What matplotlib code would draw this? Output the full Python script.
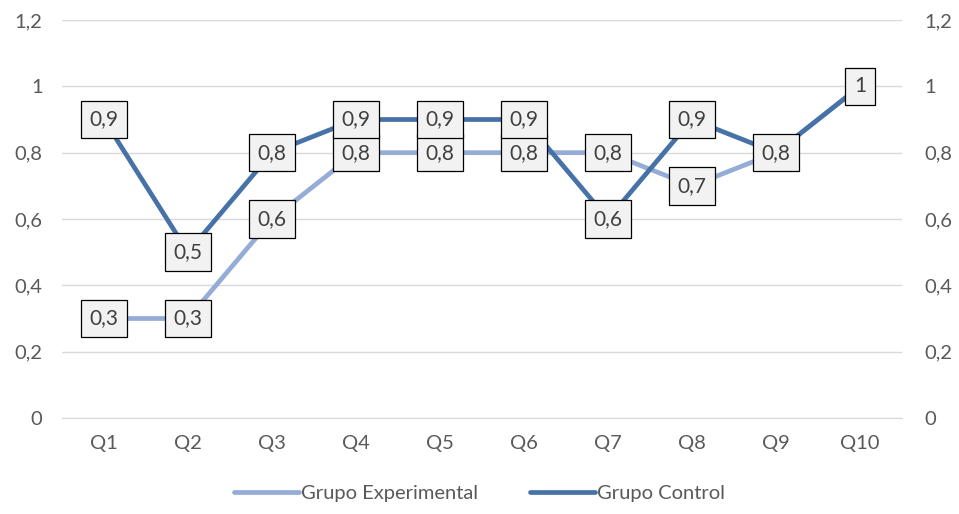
import numpy as np
import matplotlib.pyplot as plt

categories = ['Q1', 'Q2', 'Q3', 'Q4', 'Q5', 'Q6', 'Q7', 'Q8', 'Q9', 'Q10']
experimental = [0.3, 0.3, 0.6, 0.8, 0.8, 0.8, 0.8, 0.7, 0.8, 1.0]
control = [0.9, 0.5, 0.8, 0.9, 0.9, 0.9, 0.6, 0.9, 0.8, 1.0]
yticks = [0, 0.2, 0.4, 0.6, 0.8, 1.0, 1.2]

plt.rcParams['font.family'] = ['Lato', 'DejaVu Sans']
text_color = '#595959'
c_exp = '#94ACD6'
c_ctl = '#4672A8'

def fmt(v):
    s = f"{v:g}"
    return s.replace('.', ',')

fig = plt.figure(figsize=(9.59, 5.14), dpi=100)
ax = fig.add_axes([62/959, 96/514, 840/959, 398/514])
x = np.arange(len(categories))

ax.plot(x, experimental, color=c_exp, lw=3.4, solid_capstyle='round', zorder=3, label='Grupo Experimental')
ax.plot(x, control, color=c_ctl, lw=3.4, solid_capstyle='round', zorder=4, label='Grupo Control')

box = dict(boxstyle='square,pad=0.42', facecolor='#F2F2F2', edgecolor='black', lw=0.9)
for i in range(len(categories)):
    e, c = experimental[i], control[i]
    if abs(e - c) > 1e-9:
        ax.text(x[i], e, fmt(e), ha='center', va='center', fontsize=15, color='#404040', bbox=box, zorder=5)
    ax.text(x[i], c, fmt(c), ha='center', va='center', fontsize=15, color='#404040', bbox=box, zorder=6)

ax.set_xlim(-0.5, len(categories) - 0.5)
ax.set_ylim(0, 1.2)
ax.set_yticks(yticks)
ax.set_yticklabels([fmt(v) for v in yticks])
ax.set_xticks(x)
ax.set_xticklabels(categories)
ax.grid(axis='y', color='#D9D9D9', lw=1)
ax.set_axisbelow(True)
for s in ax.spines.values():
    s.set_visible(False)
ax.spines['bottom'].set_visible(True)
ax.spines['bottom'].set_color('#D9D9D9')
ax.tick_params(axis='both', length=0, labelsize=14.5, colors=text_color, pad=14)
ax.tick_params(axis='x', pad=12)

ax2 = ax.twinx()
ax2.set_ylim(0, 1.2)
ax2.set_yticks(yticks)
ax2.set_yticklabels([fmt(v) for v in yticks])
for s in ax2.spines.values():
    s.set_visible(False)
ax2.tick_params(axis='y', length=0, labelsize=14.5, colors=text_color, pad=16)

leg = fig.legend(loc='lower center', bbox_to_anchor=(0.5, -0.012), ncol=2, frameon=False,
                 fontsize=14.5, handlelength=3.2, handletextpad=0.1, columnspacing=2.6)
for t in leg.get_texts():
    t.set_color(text_color)

fig.savefig('out.png', dpi=100)
